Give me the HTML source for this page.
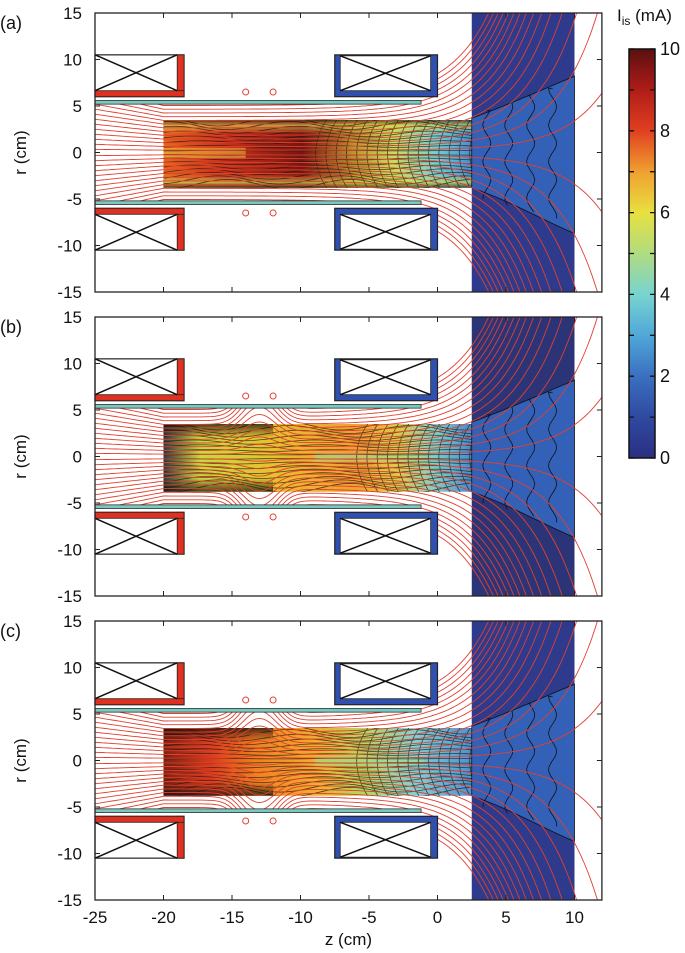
<!DOCTYPE html>
<html><head><meta charset="utf-8"><style>
html,body{margin:0;padding:0;background:#fff;}
svg{display:block;font-family:"Liberation Sans",Arial,sans-serif;}
</style></head><body>
<svg id="s" width="685" height="953" viewBox="0 0 685 953" xmlns="http://www.w3.org/2000/svg">
<defs>
<linearGradient id="cb" x1="0" y1="1" x2="0" y2="0">
<stop offset="0" stop-color="#2b2f82"/><stop offset="0.1" stop-color="#2f4aa0"/>
<stop offset="0.2" stop-color="#3a70c0"/><stop offset="0.3" stop-color="#50a8d8"/>
<stop offset="0.4" stop-color="#78d4d0"/><stop offset="0.5" stop-color="#b0dc80"/>
<stop offset="0.6" stop-color="#e8e040"/><stop offset="0.7" stop-color="#f0a030"/>
<stop offset="0.8" stop-color="#e04020"/><stop offset="0.9" stop-color="#b01c18"/>
<stop offset="1" stop-color="#5a1010"/>
</linearGradient>
<linearGradient id="ga" x1="0" y1="0" x2="1" y2="0">
<stop offset="0" stop-color="#e8661c"/><stop offset="0.2" stop-color="#c83018"/>
<stop offset="0.45" stop-color="#781410"/><stop offset="0.62" stop-color="#b89830"/>
<stop offset="0.75" stop-color="#c8dc60"/><stop offset="0.88" stop-color="#78d0d0"/>
<stop offset="1" stop-color="#4a8cd0"/>
</linearGradient>
<linearGradient id="gb" x1="0" y1="0" x2="1" y2="0">
<stop offset="0" stop-color="#303a40"/><stop offset="0.12" stop-color="#c8d840"/>
<stop offset="0.35" stop-color="#e8c030"/><stop offset="0.62" stop-color="#f0a030"/>
<stop offset="0.76" stop-color="#e0c848"/><stop offset="0.88" stop-color="#80d0c8"/>
<stop offset="1" stop-color="#4a88d0"/>
</linearGradient>
<linearGradient id="gc" x1="0" y1="0" x2="1" y2="0">
<stop offset="0" stop-color="#802010"/><stop offset="0.15" stop-color="#d83a1a"/>
<stop offset="0.3" stop-color="#f08020"/><stop offset="0.5" stop-color="#f0b030"/>
<stop offset="0.65" stop-color="#b0d860"/><stop offset="0.82" stop-color="#80d0d8"/>
<stop offset="1" stop-color="#5090d0"/>
</linearGradient>
<linearGradient id="ova" x1="0" y1="0" x2="0" y2="1">
<stop offset="0" stop-color="#202010" stop-opacity="0.7"/><stop offset="0.08" stop-color="#c8dc50" stop-opacity="0.7"/>
<stop offset="0.2" stop-color="#c8dc50" stop-opacity="0"/><stop offset="0.8" stop-color="#c8dc50" stop-opacity="0"/>
<stop offset="0.92" stop-color="#c8dc50" stop-opacity="0.7"/><stop offset="1" stop-color="#202010" stop-opacity="0.7"/>
</linearGradient>
<linearGradient id="ovb" x1="0" y1="0" x2="0" y2="1">
<stop offset="0" stop-color="#101010" stop-opacity="0.75"/><stop offset="0.2" stop-color="#101010" stop-opacity="0"/>
<stop offset="0.8" stop-color="#101010" stop-opacity="0"/><stop offset="1" stop-color="#101010" stop-opacity="0.75"/>
</linearGradient>
</defs>
<g id="root"></g>
</svg>
<script>
var NS="http://www.w3.org/2000/svg",root=document.getElementById("root");
function X(z){return 95+(z+25)*13.7;}
var TOPS=[13,317,621],H=279;
function el(t,a,p){var e=document.createElementNS(NS,t);for(var k in a)e.setAttribute(k,a[k]);(p||root).appendChild(e);return e;}
function tx(x,y,s,a,p){var e=el("text",Object.assign({x:x,y:y,"font-size":17,fill:"#111"},a||{}),p);e.textContent=s;return e;}
var grads=["ga","gb","gc"];
TOPS.forEach(function(top,pi){
 function Y(r){return top+(15-r)*H/30;}
 var g=el("g",{});
 var cid="clip"+pi;
 var cp=el("clipPath",{id:cid},g);
 el("rect",{x:X(-25),y:Y(5.2),width:X(-1.2)-X(-25),height:Y(-5.2)-Y(5.2)},cp);
 el("rect",{x:X(-1.2),y:top,width:X(12)-X(-1.2),height:H},cp);
 el("rect",{x:X(-7.5),y:Y(5.6),width:X(-1.2)-X(-7.5),height:Y(-5.6)-Y(5.6)},cp);
 var pcid="pc"+pi;
 var pc=el("clipPath",{id:pcid},g);el("rect",{x:X(-20),y:Y(3.5),width:X(2.5)-X(-20),height:Y(-3.8)-Y(3.5)},pc);
 var pg=el("g",{"clip-path":"url(#"+pcid+")"},g);
 el("rect",{x:X(-20),y:Y(3.5),width:X(2.5)-X(-20),height:Y(-3.8)-Y(3.5),fill:"url(#"+grads[pi]+")"},pg);
 if(pi==0){el("rect",{x:X(-20),y:Y(3.5),width:X(2.5)-X(-20),height:Y(-3.8)-Y(3.5),fill:"url(#ova)"},pg);
   el("rect",{x:X(-20),y:Y(0.5),width:X(-14)-X(-20),height:Y(-0.6)-Y(0.5),fill:"#e8d040",opacity:0.5},pg);}
 else{el("rect",{x:X(-20),y:Y(3.5),width:X(-12)-X(-20),height:Y(-3.8)-Y(3.5),fill:"url(#ovb)"},pg);
   el("rect",{x:X(-9),y:Y(0.4),width:X(-1)-X(-9),height:Y(-0.5)-Y(0.4),fill:"#a0dc90",opacity:0.6},pg);}
 var d="";
 for(var r0=-3.4;r0<3.4;r0+=0.45){d+="M"+X(-20)+" "+Y(r0);for(var z=-20;z<=2.5;z+=0.5){var rr=r0*(1+0.15*Math.sin(z*0.7+r0));d+="L"+X(z).toFixed(1)+" "+Y(rr).toFixed(1);}}
 for(var zc=(pi==0?-9:-6);zc<2.5;zc+=0.75){d+="M"+X(zc+0.9)+" "+Y(3.5)+"Q"+X(zc-0.7)+" "+Y(0)+" "+X(zc+0.9)+" "+Y(-3.8);}
 el("path",{d:d,fill:"none",stroke:"#1a1a10","stroke-width":0.8,opacity:0.75},pg);
 el("rect",{x:X(2.5),y:top,width:X(10)-X(2.5),height:H,fill:pi==1?"#2c3478":"#2e3a8c"},g);
 var cd="M"+X(2.5)+" "+Y(3.7)+" C"+X(5)+" "+Y(5)+" "+X(8)+" "+Y(7)+" "+X(10)+" "+Y(8.2)+" L"+X(10)+" "+Y(-8.7)+" C"+X(8)+" "+Y(-7.5)+" "+X(5)+" "+Y(-5)+" "+X(2.5)+" "+Y(-3.8)+"Z";
 el("path",{d:cd,fill:"#3461b8",stroke:"#111","stroke-width":0.8},g);
 var wd="";
 [3.6,5.2,6.8,8.4].forEach(function(z0,i){wd+="M"+X(z0)+" "+Y(4.5+i*0.8);for(var r=4.5+i*0.8;r>=-5-i*0.8;r-=0.5){wd+="L"+X(z0+0.3*Math.sin(r*1.6)).toFixed(1)+" "+Y(r).toFixed(1);}});
 el("path",{d:wd,fill:"none",stroke:"#111","stroke-width":0.8},g);
 var fl=el("g",{"clip-path":"url(#"+cid+")"},g);
 var fd="";
 for(var i=0;i<15;i++){[1,-1].forEach(function(s){var r0=s*(0.25+i*0.4);
   var first=true;
   for(var z=-25;z<=12.01;z+=0.25){var gz=1+0.45*Math.exp(z/3);var L=1+0.07*Math.max(0,-20-z);
     var C=pi==0?1:1+1.0*Math.exp(-Math.pow((z+13)/1.6,2));
     var r=r0*gz*L*C; if(Math.abs(r)>17){if(!first)break;continue;}
     fd+=(first?"M":"L")+X(z).toFixed(1)+" "+Y(r).toFixed(1);first=false;}
 });}
 el("path",{d:fd,fill:"none",stroke:"#e04030","stroke-width":0.9},fl);
 [[5.2,5.6],[-5.6,-5.2]].forEach(function(t){el("rect",{x:X(-25),y:Y(t[1]),width:X(-1.2)-X(-25),height:Y(t[0])-Y(t[1]),fill:"#7ac8c0",stroke:"#333","stroke-width":0.8},g);});
 [1,-1].forEach(function(s){
  var yt=s>0?Y(10.5):Y(-6),yb=s>0?Y(6):Y(-10.5);
  el("rect",{x:X(-25),y:yt,width:X(-18.5)-X(-25),height:yb-yt,fill:"#fff",stroke:"#222","stroke-width":1.2},g);
  el("rect",{x:X(-19),y:yt,width:X(-18.5)-X(-19),height:yb-yt,fill:"#e03020",stroke:"#222","stroke-width":0.8},g);
  var ys=s>0?yb-6:yt; el("rect",{x:X(-25),y:ys,width:X(-18.5)-X(-25),height:6,fill:"#e03020",stroke:"#222","stroke-width":0.8},g);
  var iy1=s>0?yt:yt+6,iy2=s>0?yb-6:yb;
  el("path",{d:"M"+X(-25)+" "+iy1+"L"+X(-19)+" "+iy2+"M"+X(-25)+" "+iy2+"L"+X(-19)+" "+iy1,stroke:"#111","stroke-width":1.5,fill:"none"},g);
  el("rect",{x:X(-7.5),y:yt,width:X(0)-X(-7.5),height:yb-yt,fill:"#3050b0",stroke:"#222","stroke-width":1.2},g);
  var bx1=X(-7.1),bx2=X(-0.5),by1=s>0?yt+1:yt+6,by2=s>0?yb-6:yb-1;
  el("rect",{x:bx1,y:by1,width:bx2-bx1,height:by2-by1,fill:"#fff",stroke:"#222","stroke-width":0.8},g);
  el("path",{d:"M"+bx1+" "+by1+"L"+bx2+" "+by2+"M"+bx1+" "+by2+"L"+bx2+" "+by1,stroke:"#111","stroke-width":1.5,fill:"none"},g);
  [-14,-12].forEach(function(z){el("circle",{cx:X(z),cy:Y(s*6.5),r:3,fill:"none",stroke:"#e04030","stroke-width":1},g);});
 });
 el("rect",{x:X(-25),y:top,width:X(12)-X(-25),height:H,fill:"none",stroke:"#222","stroke-width":1.3},g);
 var td="";
 for(var z=-25;z<=10;z+=5){td+="M"+X(z)+" "+top+"v5M"+X(z)+" "+(top+H)+"v-5";}
 for(var r=-15;r<=15;r+=5){td+="M"+X(-25)+" "+Y(r)+"h5M"+X(12)+" "+Y(r)+"h-5";tx(82,Y(r)+6,String(r),{"text-anchor":"end"});}
 el("path",{d:td,stroke:"#222","stroke-width":1},g);
 tx(0,top+16,"("+"abc"[pi]+")",{"font-size":18});
 tx(0,0,"r (cm)",{transform:"translate(26,"+(top+H/2)+") rotate(-90)","text-anchor":"middle","font-size":17});
});
for(var z=-25;z<=10;z+=5){tx(X(z),923,String(z),{"text-anchor":"middle"});}
tx(X(-6.5),945,"z (cm)",{"text-anchor":"middle"});
el("rect",{x:629,y:49,width:26,height:409,fill:"url(#cb)",stroke:"#111","stroke-width":1.5});
var cd2="";for(var v=0;v<=10;v++){var y=458-v*40.9;cd2+="M629 "+y+"h5M655 "+y+"h-5";}
el("path",{d:cd2,stroke:"#111","stroke-width":1.3});
for(var v=0;v<=10;v+=2){tx(660,458-v*40.9+6,String(v),{"font-size":18});}
var t=tx(617,21,"I",{"font-size":17});var ts=el("tspan",{"font-size":12,dy:4},t);ts.textContent="is";var t2=el("tspan",{dy:-4},t);t2.textContent=" (mA)";
</script>
</body></html>
